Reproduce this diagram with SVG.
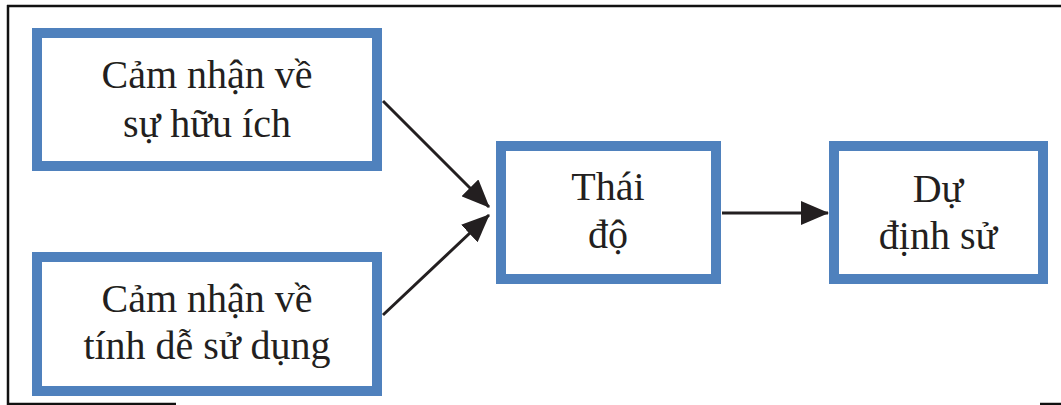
<svg xmlns="http://www.w3.org/2000/svg" width="1061" height="405" viewBox="0 0 1061 405">
  <style>
    .box { fill: #ffffff; stroke: #4f81bd; stroke-width: 10; }
    .lbl { font-family: "Liberation Serif", "Times New Roman", serif; font-size: 40px; fill: #231f20; text-anchor: middle; }
    .conn { stroke: #231f20; stroke-width: 3; fill: none; marker-end: url(#ah); }
    .frame { stroke: #111111; stroke-width: 2.5; fill: none; }
  </style>
  <defs>
    <marker id="ah" markerUnits="userSpaceOnUse" markerWidth="28" markerHeight="24" refX="27" refY="12" orient="auto">
      <path d="M0,0 L28,12 L0,24 Z" fill="#231f20"/>
    </marker>
  </defs>
  <rect width="1061" height="405" fill="#ffffff"/>
  <g id="frame">
    <line class="frame" x1="7" y1="6" x2="1061" y2="6"/>
    <line class="frame" x1="8" y1="5" x2="8" y2="405"/>
    <line class="frame" x1="8" y1="404" x2="176" y2="404"/>
    <line class="frame" x1="1040" y1="404" x2="1061" y2="404"/>
  </g>
  <g id="connectors">
    <line class="conn" x1="383" y1="101" x2="489" y2="207"/>
    <line class="conn" x1="383" y1="315" x2="489" y2="215"/>
    <line class="conn" x1="722" y1="213" x2="828" y2="213"/>
  </g>
  <g id="node-huu-ich">
    <rect class="box" x="37" y="33" width="340" height="133"/>
    <text class="lbl" x="207" y="88">Cảm nhận về</text>
    <text class="lbl" x="207" y="137">sự hữu ích</text>
  </g>
  <g id="node-de-su-dung">
    <rect class="box" x="37" y="257" width="340" height="134"/>
    <text class="lbl" x="207" y="312">Cảm nhận về</text>
    <text class="lbl" x="207" y="359">tính dễ sử dụng</text>
  </g>
  <g id="node-thai-do">
    <rect class="box" x="501" y="146" width="215" height="133"/>
    <text class="lbl" x="608" y="200">Thái</text>
    <text class="lbl" x="608" y="248">độ</text>
  </g>
  <g id="node-du-dinh">
    <rect class="box" x="834" y="146" width="209" height="133"/>
    <text class="lbl" x="938" y="202">Dự</text>
    <text class="lbl" x="938" y="249">định sử</text>
  </g>
</svg>
